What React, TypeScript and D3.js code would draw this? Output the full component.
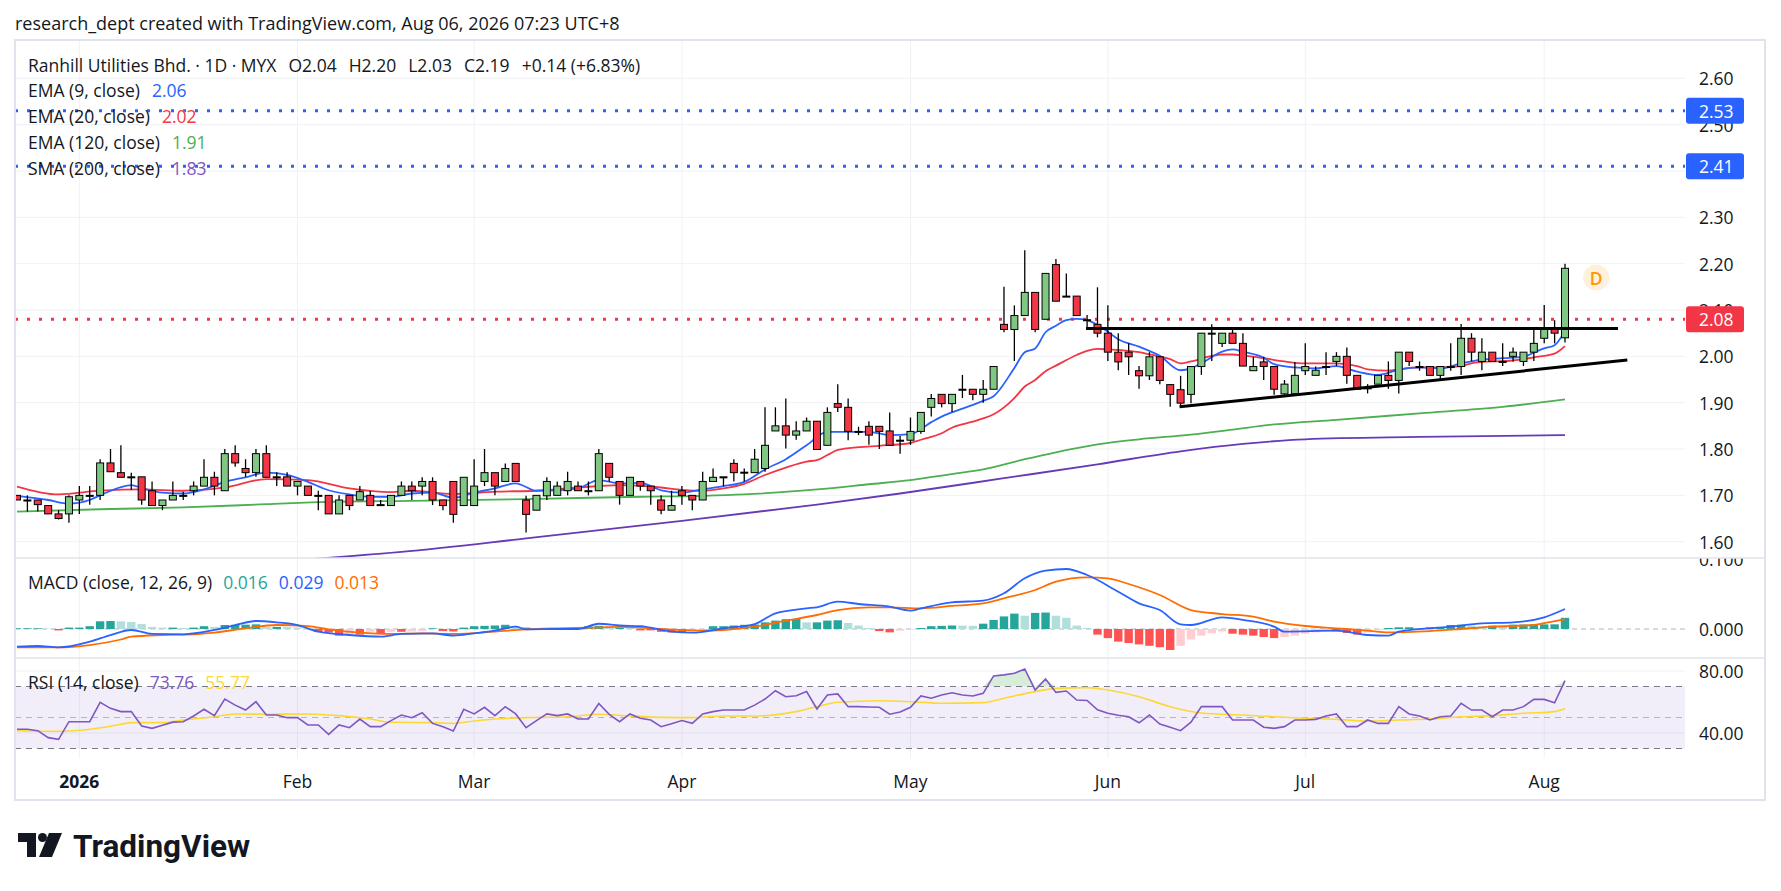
import React from 'react';
import * as d3 from 'd3';

// ---- data (one entry per trading day, index 0 = Dec 23 2025) ----
const opens = [
  1.700, 1.690, 1.690, 1.678, 1.660, 1.660, 1.690, 1.700, 1.700, 1.770,
  1.749, 1.740, 1.740, 1.710, 1.678, 1.690, 1.700, 1.710, 1.720, 1.739,
  1.710, 1.790, 1.758, 1.749, 1.790, 1.740, 1.740, 1.720, 1.720, 1.700,
  1.700, 1.660, 1.700, 1.690, 1.700, 1.680, 1.678, 1.700, 1.720, 1.720,
  1.730, 1.690, 1.730, 1.678, 1.678, 1.730, 1.749, 1.730, 1.769, 1.690,
  1.668, 1.699, 1.700, 1.710, 1.720, 1.710, 1.710, 1.769, 1.730, 1.700,
  1.730, 1.720, 1.690, 1.668, 1.710, 1.700, 1.690, 1.730, 1.739, 1.769,
  1.750, 1.749, 1.758, 1.839, 1.850, 1.830, 1.839, 1.860, 1.808, 1.898,
  1.890, 1.838, 1.849, 1.849, 1.839, 1.819, 1.819, 1.838, 1.890, 1.918,
  1.898, 1.929, 1.929, 1.918, 1.929, 2.069, 2.058, 2.088, 2.138, 2.080,
  2.198, 2.130, 2.130, 2.079, 2.069, 2.050, 2.009, 2.009, 1.969, 1.958,
  1.999, 1.939, 1.928, 1.918, 1.978, 2.050, 2.028, 2.050, 2.028, 1.969,
  1.988, 1.978, 1.919, 1.919, 1.969, 1.959, 1.978, 1.989, 2.000, 1.959,
  1.932, 1.940, 1.959, 1.948, 2.009, 1.978, 1.978, 1.959, 1.978, 1.978,
  2.039, 1.989, 2.009, 1.989, 2.000, 1.989, 2.009, 2.039, 2.058, 2.040,
];
const highs = [
  1.700, 1.700, 1.690, 1.678, 1.668, 1.700, 1.720, 1.720, 1.778, 1.800,
  1.808, 1.749, 1.740, 1.730, 1.690, 1.730, 1.708, 1.730, 1.778, 1.751,
  1.800, 1.808, 1.778, 1.800, 1.808, 1.750, 1.750, 1.730, 1.720, 1.710,
  1.700, 1.700, 1.700, 1.720, 1.710, 1.690, 1.700, 1.730, 1.730, 1.739,
  1.739, 1.690, 1.730, 1.739, 1.778, 1.800, 1.749, 1.769, 1.769, 1.699,
  1.700, 1.739, 1.730, 1.751, 1.730, 1.730, 1.800, 1.769, 1.730, 1.739,
  1.730, 1.720, 1.700, 1.710, 1.720, 1.700, 1.751, 1.758, 1.740, 1.778,
  1.758, 1.800, 1.890, 1.890, 1.909, 1.860, 1.868, 1.860, 1.890, 1.940,
  1.909, 1.848, 1.860, 1.849, 1.879, 1.828, 1.868, 1.879, 1.919, 1.918,
  1.918, 1.960, 1.929, 1.949, 1.979, 2.150, 2.110, 2.229, 2.138, 2.179,
  2.210, 2.179, 2.130, 2.089, 2.149, 2.110, 2.050, 2.028, 1.979, 2.009,
  1.999, 1.939, 1.958, 1.978, 2.050, 2.069, 2.050, 2.058, 2.050, 1.999,
  1.999, 1.978, 1.949, 1.988, 2.028, 1.978, 2.009, 2.009, 2.019, 1.959,
  1.940, 1.959, 1.989, 2.009, 2.009, 1.989, 1.978, 1.978, 2.028, 2.070,
  2.050, 2.039, 2.009, 2.028, 2.019, 2.009, 2.057, 2.111, 2.078, 2.200,
];
const lows = [
  1.690, 1.665, 1.665, 1.660, 1.648, 1.641, 1.660, 1.680, 1.690, 1.751,
  1.739, 1.712, 1.680, 1.678, 1.668, 1.690, 1.690, 1.700, 1.720, 1.700,
  1.710, 1.762, 1.740, 1.740, 1.739, 1.720, 1.720, 1.700, 1.700, 1.668,
  1.660, 1.660, 1.668, 1.690, 1.678, 1.678, 1.678, 1.700, 1.690, 1.700,
  1.679, 1.668, 1.641, 1.678, 1.678, 1.720, 1.700, 1.730, 1.730, 1.620,
  1.668, 1.690, 1.700, 1.700, 1.710, 1.700, 1.710, 1.730, 1.680, 1.700,
  1.710, 1.680, 1.659, 1.668, 1.680, 1.668, 1.690, 1.730, 1.720, 1.730,
  1.730, 1.749, 1.751, 1.839, 1.801, 1.820, 1.839, 1.799, 1.808, 1.880,
  1.819, 1.830, 1.809, 1.800, 1.808, 1.790, 1.809, 1.833, 1.870, 1.890,
  1.880, 1.910, 1.905, 1.900, 1.929, 2.052, 1.990, 2.088, 2.052, 2.080,
  2.119, 2.130, 2.088, 2.058, 2.041, 1.990, 1.970, 1.960, 1.930, 1.949,
  1.940, 1.891, 1.891, 1.899, 1.960, 1.990, 2.020, 2.028, 1.979, 1.969,
  1.949, 1.917, 1.912, 1.919, 1.960, 1.959, 1.960, 1.979, 1.941, 1.929,
  1.920, 1.940, 1.930, 1.920, 1.979, 1.969, 1.959, 1.950, 1.969, 1.960,
  1.989, 1.970, 1.989, 1.979, 1.989, 1.979, 1.990, 2.028, 2.028, 2.030,
];
const closes = [
  1.690, 1.690, 1.680, 1.660, 1.650, 1.697, 1.700, 1.700, 1.770, 1.751,
  1.739, 1.740, 1.690, 1.678, 1.690, 1.700, 1.700, 1.720, 1.739, 1.720,
  1.790, 1.770, 1.749, 1.790, 1.739, 1.740, 1.720, 1.730, 1.700, 1.700,
  1.660, 1.690, 1.678, 1.708, 1.678, 1.680, 1.700, 1.720, 1.710, 1.730,
  1.690, 1.678, 1.659, 1.739, 1.720, 1.749, 1.720, 1.758, 1.730, 1.659,
  1.700, 1.730, 1.720, 1.730, 1.710, 1.710, 1.790, 1.739, 1.700, 1.739,
  1.720, 1.710, 1.668, 1.678, 1.700, 1.690, 1.730, 1.739, 1.740, 1.749,
  1.750, 1.778, 1.808, 1.850, 1.830, 1.839, 1.860, 1.799, 1.879, 1.890,
  1.838, 1.838, 1.830, 1.838, 1.808, 1.819, 1.838, 1.879, 1.909, 1.898,
  1.918, 1.929, 1.918, 1.929, 1.978, 2.058, 2.088, 2.138, 2.058, 2.179,
  2.119, 2.130, 2.088, 2.079, 2.050, 2.009, 1.988, 1.999, 1.958, 1.999,
  1.948, 1.918, 1.899, 1.978, 2.050, 2.050, 2.050, 2.028, 1.979, 1.978,
  1.978, 1.929, 1.940, 1.959, 1.978, 1.970, 1.978, 2.000, 1.959, 1.929,
  1.932, 1.959, 1.948, 2.009, 1.989, 1.978, 1.959, 1.978, 1.978, 2.039,
  2.009, 2.009, 1.989, 1.989, 2.009, 2.009, 2.028, 2.058, 2.050, 2.190,
];

// moving averages, read as [bar index, value]
const ema9 = [
  [0, 1.699], [3, 1.690], [5, 1.682], [7, 1.690], [8, 1.700], [10, 1.718], [11, 1.722], [12, 1.716],
  [14, 1.706], [16, 1.704], [18, 1.713], [20, 1.729], [22, 1.739], [24, 1.749], [26, 1.744], [28, 1.729],
  [30, 1.711], [32, 1.702], [34, 1.697], [36, 1.697], [38, 1.704], [40, 1.706], [42, 1.695], [44, 1.706],
  [46, 1.715], [48, 1.726], [50, 1.710], [52, 1.711], [54, 1.715], [56, 1.733], [58, 1.726], [60, 1.727],
  [62, 1.711], [64, 1.706], [66, 1.713], [68, 1.720], [70, 1.729], [72, 1.756], [74, 1.778], [76, 1.808],
  [78, 1.837], [82, 1.837], [84, 1.830], [86, 1.832], [88, 1.858], [89, 1.870], [91, 1.887], [93, 1.904],
  [94, 1.914], [96, 1.975], [97, 2.009], [98, 2.017], [99, 2.052], [100, 2.066], [101, 2.078], [102, 2.081],
  [103, 2.078], [104, 2.068], [105, 2.053], [106, 2.037], [108, 2.021], [110, 2.001], [112, 1.970], [113, 1.974],
  [114, 1.985], [116, 2.010], [117, 2.015], [118, 2.010], [120, 1.997], [121, 1.983], [123, 1.976], [125, 1.974],
  [127, 1.979], [129, 1.967], [131, 1.960], [133, 1.971], [135, 1.976], [137, 1.974], [139, 1.985], [141, 1.993],
  [143, 1.996], [145, 1.999], [146, 2.008], [147, 2.017], [148, 2.024], [149, 2.055],
];
const ema20 = [
  [0, 1.719], [4, 1.702], [8, 1.710], [12, 1.713], [16, 1.710], [20, 1.717], [24, 1.735], [28, 1.733],
  [32, 1.715], [36, 1.707], [38, 1.710], [42, 1.703], [46, 1.708], [50, 1.710], [54, 1.717], [58, 1.722],
  [62, 1.717], [64, 1.712], [66, 1.710], [68, 1.715], [70, 1.725], [72, 1.744], [74, 1.760], [76, 1.773],
  [77, 1.776], [78, 1.787], [79, 1.798], [81, 1.804], [83, 1.807], [86, 1.813], [87, 1.820], [89, 1.834],
  [90, 1.846], [92, 1.859], [93, 1.866], [94, 1.875], [96, 1.910], [97, 1.935], [98, 1.949], [99, 1.968],
  [100, 1.980], [102, 2.003], [103, 2.012], [104, 2.016], [105, 2.015], [107, 2.012], [108, 2.009], [109, 2.004],
  [111, 1.994], [112, 1.985], [113, 1.989], [115, 2.001], [116, 2.004], [117, 2.004], [118, 2.002], [120, 1.996],
  [122, 1.989], [124, 1.985], [127, 1.985], [129, 1.979], [130, 1.972], [132, 1.969], [133, 1.972], [135, 1.976],
  [137, 1.976], [139, 1.979], [140, 1.985], [142, 1.989], [144, 1.991], [146, 1.998], [148, 2.006], [149, 2.022],
];
const ema120 = [
  [0, 1.665], [8, 1.670], [16, 1.674], [24, 1.681], [30, 1.686], [38, 1.688], [49, 1.692], [60, 1.697],
  [66, 1.699], [70, 1.702], [77, 1.713], [82, 1.724], [86, 1.733], [90, 1.746], [93, 1.756], [97, 1.778],
  [100, 1.793], [104, 1.810], [108, 1.821], [113, 1.831], [117, 1.842], [121, 1.853], [127, 1.863], [135, 1.877],
  [143, 1.891], [149, 1.907],
];
const sma200 = [
  [28, 1.562], [37, 1.578], [49, 1.607], [64, 1.645], [77, 1.680], [85, 1.704], [95, 1.737], [104, 1.767],
  [112, 1.795], [118, 1.811], [124, 1.821], [135, 1.826], [149, 1.830],
];

// drawn lines and levels
const levelsBlue = [2.53, 2.41];
const levelRed = 2.08;
const flatLine = [[102.9, 2.06], [154.1, 2.06]];
const risingLine = [[111.9, 1.891], [155, 1.992]];
const dMarker = { i: 152, p: 2.17 };

// MACD (12, 26, 9)
const macdHist = [
  0.001, 0.001, 0.001, 0.0005, -0.002, 0.002, 0.002, 0.004, 0.011, 0.0114,
  0.011, 0.010, 0.007, 0.003, 0.002, 0.002, 0.0015, 0.002, 0.004, 0.003,
  0.0057, 0.006, 0.0062, 0.0066, 0.003, 0.003, 0.0028, 0.002, 0.001, -0.004,
  -0.005, -0.0095, -0.0076, -0.008, -0.004, -0.006, -0.004, -0.004, -0.0035, -0.003,
  0.001, -0.003, -0.0035, 0.002, 0.004, 0.0045, 0.005, 0.006, 0.002, 0.002,
  0.001, 0.001, 0.0012, 0.001, 0.0008, 0.004, 0.0045, 0.002, 0.002, 0.0015,
  -0.002, -0.002, -0.004, -0.005, -0.0057, -0.002, -0.0015, 0.004, 0.004, 0.005,
  0.006, 0.0065, 0.0095, 0.012, 0.014, 0.0145, 0.0095, 0.0095, 0.012, 0.0125,
  0.0086, 0.005, 0.0014, -0.003, -0.0048, -0.0024, -0.001, 0.0014, 0.004, 0.0045,
  0.005, 0.0048, 0.0045, 0.0076, 0.013, 0.018, 0.022, 0.019, 0.023, 0.0235,
  0.019, 0.016, 0.005, 0.0014, -0.008, -0.013, -0.018, -0.020, -0.022, -0.024,
  -0.026, -0.030, -0.024, -0.015, -0.0095, -0.006, -0.0035, -0.0067, -0.008, -0.0095,
  -0.0114, -0.013, -0.0114, -0.0095, -0.0067, -0.0048, -0.0024, -0.0033, -0.0057, -0.008,
  -0.0048, -0.0019, 0.0014, 0.0024, 0.0025, 0.0014, 0.0024, 0.0026, 0.0057, 0.0062,
  0.0048, 0.0038, 0.0048, 0.0038, 0.0062, 0.0064, 0.0065, 0.0066, 0.0067, 0.016,
];
const macdLine = [
  [0, -0.0253], [2, -0.0243], [4, -0.0262], [7, -0.0181], [9, -0.0086], [11, -0.0014], [13, -0.0071], [16, -0.0076],
  [19, -0.0014], [21, 0.0057], [23, 0.0114], [25, 0.0095], [27, 0.0057], [29, -0.0038], [32, -0.0086], [35, -0.011],
  [37, -0.0071], [40, -0.0062], [42, -0.0095], [44, -0.0062], [46, -0.0024], [48, 0.0033], [49, -0.0005], [52, 0],
  [54, 0], [56, 0.0075], [58, 0.005], [60, 0.004], [63, -0.0038], [65, -0.0052], [68, 0.001], [71, 0.0071],
  [73, 0.0224], [76, 0.0295], [77, 0.031], [79, 0.039], [81, 0.0357], [84, 0.0319], [86, 0.0262], [87, 0.0295],
  [90, 0.0381], [93, 0.0405], [95, 0.051], [97, 0.0724], [99, 0.0833], [101, 0.0857], [103, 0.0771], [106, 0.0533],
  [108, 0.0367], [110, 0.0271], [112, 0.0067], [113, 0.0057], [116, 0.0167], [118, 0.0129], [121, 0.0033], [122, -0.0038],
  [127, -0.0024], [130, -0.0086], [132, -0.0095], [133, -0.0038], [138, 0.0033], [141, 0.0081], [144, 0.0095], [147, 0.0167],
  [149, 0.0286],
];
const signalLine = [
  [0, -0.0262], [4, -0.0262], [7, -0.0229], [10, -0.015], [11, -0.011], [14, -0.0086], [17, -0.0076], [19, -0.0052],
  [22, 0.001], [25, 0.0057], [28, 0.004], [30, -0.0005], [33, -0.0052], [36, -0.0071], [39, -0.0062], [42, -0.0071],
  [46, -0.0038], [49, -0.0005], [52, 0.001], [55, 0.0019], [58, 0.003], [61, 0.001], [64, -0.0014], [66, -0.0024],
  [68, -0.0014], [71, 0.0033], [74, 0.0119], [77, 0.02], [79, 0.0271], [82, 0.031], [84, 0.031], [87, 0.0295],
  [90, 0.0329], [93, 0.0367], [95, 0.0438], [98, 0.0557], [100, 0.0676], [103, 0.0738], [105, 0.0724], [107, 0.0643],
  [110, 0.0486], [113, 0.0271], [116, 0.0214], [119, 0.0176], [121, 0.0105], [124, 0.0043], [127, 0.001], [130, -0.0024],
  [132, -0.0048], [136, -0.0029], [139, 0], [142, 0.0033], [146, 0.0057], [148, 0.0114], [149, 0.0138],
];

// RSI (14)
const rsi = [
  42.4, 42.4, 41.5, 37, 35.9, 47.3, 47.3, 47.3, 59.8, 55.9,
  53.8, 53.8, 44.5, 43, 45, 47, 47.3, 51, 55.3, 51.2,
  61.9, 58, 54.8, 60.2, 51.6, 51.6, 49.9, 49.9, 45.2, 45.2,
  39.1, 45.2, 43.4, 49, 44.1, 44.1, 48, 51.6, 49.9, 53.1,
  46.2, 44, 41.3, 55.3, 52.3, 56.6, 51.2, 57, 52.3, 43.4,
  48, 52.3, 51.2, 52.3, 49, 49, 59, 52, 47.3, 52.3,
  49.5, 48.4, 44.1, 46, 48, 46.2, 52.3, 53.8, 54.8, 54.8,
  54.8, 58, 61.9, 67.3, 63.4, 64, 66.7, 55.5, 64.5, 65.2,
  57, 57, 56.8, 56.6, 52.1, 53.5, 56.6, 63.9, 62.4, 64.5,
  66, 64.5, 63.9, 65.6, 76.8, 77.5, 78.5, 81.3, 67.7, 74.8,
  66.2, 67.1, 61.3, 61, 55, 52.7, 51.5, 50.5, 46.6, 51.6,
  45.8, 43.7, 41.5, 47, 57, 57, 57, 48.4, 48.4, 48.4,
  43.7, 43, 44.1, 48.4, 48.4, 48.8, 51, 52.3, 44.1, 44.1,
  48.4, 46.2, 46.2, 57, 52.3, 51, 48.4, 50.5, 51, 59.2,
  54.8, 54.8, 50.5, 54.8, 54.8, 57, 61.7, 61.7, 59.5, 73.76,
];
const rsiMa = [
  [0, 41.5], [4, 41.1], [7, 42.4], [10, 45.6], [11, 46.7], [14, 46.7], [16, 48.4], [19, 50.5],
  [21, 52.3], [24, 52.1], [28, 52.3], [31, 51.2], [34, 49], [36, 46.9], [40, 46.7], [42, 46.2],
  [44, 47.7], [46, 49], [49, 49.9], [53, 50.5], [56, 52.1], [59, 51], [62, 50.1], [65, 49.9],
  [68, 51], [71, 51], [75, 53.8], [77, 57], [79, 59.8], [83, 60.8], [86, 60.2], [89, 59.2],
  [93, 59.6], [95, 62.4], [98, 66.7], [100, 68.8], [103, 69.3], [105, 67.7], [108, 63.4], [111, 57],
  [114, 52.9], [118, 51.6], [121, 50.5], [124, 49.5], [127, 48.8], [130, 47.7], [133, 48.4], [136, 49],
  [139, 50.5], [142, 51.2], [145, 52.7], [148, 53.8], [149, 55.77],
];

// axes
const priceTicks = [1.6, 1.7, 1.8, 1.9, 2.0, 2.1, 2.2, 2.3, 2.4, 2.5, 2.6];
const macdTicks = [0, 0.1];
const rsiTicks = [40, 80];
const rsiBands = [70, 50, 30];
const monthLabels = ['2026', 'Feb', 'Mar', 'Apr', 'May', 'Jun', 'Jul', 'Aug'];
const monthIdx = [6, 27, 44, 64, 86, 105, 124, 147];

const headerText = 'research_dept created with TradingView.com, Aug 06, 2026 07:23 UTC+8';
const titleParts = ['Ranhill Utilities Bhd. \u00b7 1D \u00b7 MYX', 'O2.04', 'H2.20', 'L2.03', 'C2.19', '+0.14 (+6.83%)'];
const maLegend = [
  { name: 'EMA (9, close)', value: '2.06', color: '#2962ff' },
  { name: 'EMA (20, close)', value: '2.02', color: '#f23645' },
  { name: 'EMA (120, close)', value: '1.91', color: '#4caf50' },
  { name: 'SMA (200, close)', value: '1.83', color: '#7e57c2' },
];

const W = 1781;
const H = 891;
const FONT = "'Open Sans', 'Noto Sans', sans-serif";
const FS = 17.5;
const TXT = '#131722';
const GRID = '#eff1f5';
const BORDER = '#e0e3eb';
const UP = '#81c784';
const DOWN = '#f23645';

const L = 15;          // frame left
const R = 1765;        // frame right
const PR = 1685;       // plot right edge
const AX = 1699;       // axis label x
const TOP = 40;
const SEP1 = 558;
const SEP2 = 658;
const RSI_BOTTOM = 758;
const BOTTOM = 800;

const App = () => {
  const x = d3.scaleLinear().domain([0, closes.length - 1]).range([17, 1565]);
  const y = d3.scaleLinear().domain([1.6, 2.6]).range([541.7, 78.3]);
  const yM = d3.scaleLinear().domain([0, 0.1]).range([629, 559]);
  const yR = d3.scaleLinear().domain([40, 80]).range([733, 671]);

  const knots = (ys) =>
    d3.line().x((d) => x(d[0])).y((d) => ys(d[1])).curve(d3.curveMonotoneX);
  const straight = (ys) => d3.line().x((d) => x(d[0])).y((d) => ys(d[1]));
  const rsiPath = d3.line().x((d, i) => x(i)).y((d) => yR(d))(rsi);
  const obArea = d3
    .area()
    .x((d, i) => x(i))
    .y0(yR(70))
    .y1((d) => yR(Math.max(d, 70)))(rsi);

  const bodyW = 7;
  const barW = 8.4;

  const histColor = (v, i) => {
    const prev = i > 0 ? macdHist[i - 1] : 0;
    if (v >= 0) return v >= prev ? '#26a69a' : '#b2dfdb';
    return v <= prev ? '#ff5252' : '#ffcdd2';
  };

  const tags = [...levelsBlue, levelRed];
  // tick labels completely covered by a price tag are not drawn
  const visibleTicks = priceTicks.filter((t) => !tags.some((p) => Math.abs(y(t) - y(p)) < 6));

  const priceTag = (p, color, key) => (
    <g key={key}>
      <rect x={PR + 1} y={y(p) - 13} width={58} height={26} rx={3} fill={color} />
      <text x={AX} y={y(p)} dominantBaseline="central" fill="#fff" fontSize={FS}>
        {p.toFixed(2)}
      </text>
    </g>
  );

  return (
    <svg
      width={W}
      height={H}
      style={{ position: 'absolute', left: 0, top: 0, background: '#fff' }}
      fontFamily={FONT}
    >
      <defs>
        <clipPath id="clipPrice">
          <rect x={L} y={TOP} width={PR - L} height={SEP1 - TOP} />
        </clipPath>
        <clipPath id="clipMacd">
          <rect x={L} y={SEP1} width={PR - L} height={SEP2 - SEP1} />
        </clipPath>
        <clipPath id="clipMacdAxis">
          <rect x={PR} y={SEP1} width={R - PR} height={SEP2 - SEP1} />
        </clipPath>
        <clipPath id="clipRsi">
          <rect x={L} y={SEP2} width={PR - L} height={RSI_BOTTOM - SEP2} />
        </clipPath>
        <clipPath id="clipOb">
          <rect x={L} y={SEP2} width={PR - L} height={yR(70) - SEP2} />
        </clipPath>
      </defs>
      <rect width={W} height={H} fill="#fff" />

      <text x={15} y={23} dominantBaseline="central" fontSize={18} fill={TXT}>
        {headerText}
      </text>

      {/* grid */}
      {monthIdx.map((m, k) => (
        <line key={'vg' + k} x1={x(m)} x2={x(m)} y1={TOP} y2={RSI_BOTTOM} stroke={GRID} strokeWidth={1} />
      ))}
      {priceTicks.map((t) => (
        <line key={'pg' + t} x1={L} x2={PR} y1={y(t)} y2={y(t)} stroke={GRID} strokeWidth={1} />
      ))}
      {rsiTicks.map((t) => (
        <line key={'rg' + t} x1={L} x2={PR} y1={yR(t)} y2={yR(t)} stroke={GRID} strokeWidth={1} />
      ))}

      {/* price pane */}
      <g clipPath="url(#clipPrice)">
        {levelsBlue.map((p) => (
          <line key={'lb' + p} x1={L} x2={PR} y1={y(p)} y2={y(p)} stroke="#2962ff" strokeWidth={3} strokeDasharray="3 9" />
        ))}
        <line x1={L} x2={PR} y1={y(levelRed)} y2={y(levelRed)} stroke={DOWN} strokeWidth={3} strokeDasharray="3 9" />

        <path d={knots(y)(sma200)} fill="none" stroke="#673ab7" strokeWidth={1.8} />
        <path d={knots(y)(ema120)} fill="none" stroke="#4caf50" strokeWidth={1.8} />
        <path d={knots(y)(ema20)} fill="none" stroke={DOWN} strokeWidth={1.8} />
        <path d={knots(y)(ema9)} fill="none" stroke="#2962ff" strokeWidth={1.8} />

        {closes.map((c, i) => {
          const o = opens[i];
          const top = y(Math.max(o, c));
          const h = Math.max(1, y(Math.min(o, c)) - top);
          return (
            <g key={'c' + i}>
              <line x1={x(i)} x2={x(i)} y1={y(highs[i])} y2={y(lows[i])} stroke="#000" strokeWidth={1.3} />
              <rect
                x={x(i) - bodyW / 2}
                y={top}
                width={bodyW}
                height={h}
                fill={c >= o ? UP : DOWN}
                stroke="#000"
                strokeWidth={1}
              />
            </g>
          );
        })}

        <path d={straight(y)(flatLine)} stroke="#000" strokeWidth={3} fill="none" />
        <path d={straight(y)(risingLine)} stroke="#000" strokeWidth={3} fill="none" />

        <circle cx={x(dMarker.i)} cy={y(dMarker.p)} r={13} fill="#fff0dc" />
        <text
          x={x(dMarker.i)}
          y={y(dMarker.p)}
          textAnchor="middle"
          dominantBaseline="central"
          fontSize={FS}
          fontWeight={600}
          fill="#ff9800"
        >
          D
        </text>
      </g>

      {/* price legend */}
      <text x={28} y={65} dominantBaseline="central" fontSize={FS} fill={TXT}>
        {titleParts.map((t, k) => (
          <tspan key={'tp' + k} dx={k === 0 ? 0 : 12}>
            {t}
          </tspan>
        ))}
      </text>
      {maLegend.map((m, k) => (
        <text key={'ml' + k} x={28} y={90 + k * 26} dominantBaseline="central" fontSize={FS} fill={TXT}>
          {m.name}
          <tspan dx={12} fill={m.color}>
            {m.value}
          </tspan>
        </text>
      ))}

      {/* price axis */}
      {visibleTicks.map((t) => (
        <text key={'pl' + t} x={AX} y={y(t)} dominantBaseline="central" fontSize={FS} fill={TXT}>
          {t.toFixed(2)}
        </text>
      ))}
      {levelsBlue.map((p, k) => priceTag(p, '#2962ff', 'tb' + k))}
      {priceTag(levelRed, DOWN, 'tr')}

      {/* MACD pane */}
      <line x1={L} x2={PR} y1={yM(0)} y2={yM(0)} stroke="#b2b5be" strokeWidth={1} strokeDasharray="5 4" />
      <g clipPath="url(#clipMacd)">
        {macdHist.map((v, i) => (
          <rect
            key={'h' + i}
            x={x(i) - barW / 2}
            y={Math.min(yM(v), yM(0))}
            width={barW}
            height={Math.abs(yM(v) - yM(0))}
            fill={histColor(v, i)}
          />
        ))}
        <path d={knots(yM)(signalLine)} fill="none" stroke="#ff6d00" strokeWidth={1.8} />
        <path d={knots(yM)(macdLine)} fill="none" stroke="#2962ff" strokeWidth={1.8} />
      </g>
      <text x={28} y={582} dominantBaseline="central" fontSize={FS} fill={TXT}>
        MACD (close, 12, 26, 9)
        <tspan dx={11} fill="#26a69a">0.016</tspan>
        <tspan dx={11} fill="#2962ff">0.029</tspan>
        <tspan dx={11} fill="#ff6d00">0.013</tspan>
      </text>
      <g clipPath="url(#clipMacdAxis)">
        {macdTicks.map((t) => (
          <text key={'ml' + t} x={AX} y={yM(t)} dominantBaseline="central" fontSize={FS} fill={TXT}>
            {t.toFixed(3)}
          </text>
        ))}
      </g>

      {/* RSI pane */}
      <rect x={L} y={yR(70)} width={PR - L} height={yR(30) - yR(70)} fill="rgba(126,87,194,0.1)" />
      {rsiBands.map((b) => (
        <line
          key={'rb' + b}
          x1={L}
          x2={PR}
          y1={yR(b)}
          y2={yR(b)}
          stroke="#787b86"
          strokeOpacity={b === 50 ? 0.5 : 1}
          strokeWidth={1}
          strokeDasharray="6 5"
        />
      ))}
      <g clipPath="url(#clipRsi)">
        <path d={obArea} fill="rgba(76,175,80,0.22)" clipPath="url(#clipOb)" />
        <path d={knots(yR)(rsiMa)} fill="none" stroke="#fdd835" strokeWidth={1.6} />
        <path d={rsiPath} fill="none" stroke="#7e57c2" strokeWidth={1.6} />
      </g>
      <text x={28} y={682} dominantBaseline="central" fontSize={FS} fill={TXT}>
        RSI (14, close)
        <tspan dx={11} fill="#7e57c2">73.76</tspan>
        <tspan dx={11} fill="#fdd835">55.77</tspan>
      </text>
      {rsiTicks.map((t) => (
        <text key={'rl' + t} x={AX} y={yR(t)} dominantBaseline="central" fontSize={FS} fill={TXT}>
          {t.toFixed(2)}
        </text>
      ))}

      {/* time axis */}
      {monthLabels.map((m, k) => (
        <text
          key={'tl' + k}
          x={x(monthIdx[k])}
          y={781}
          textAnchor="middle"
          dominantBaseline="central"
          fontSize={FS}
          fontWeight={k === 0 ? 700 : 400}
          fill={TXT}
        >
          {m}
        </text>
      ))}

      {/* pane separators and frame */}
      <line x1={L} x2={R} y1={SEP1} y2={SEP1} stroke={BORDER} strokeWidth={1.5} />
      <line x1={L} x2={R} y1={SEP2} y2={SEP2} stroke={BORDER} strokeWidth={1.5} />
      <rect x={L} y={TOP} width={R - L} height={BOTTOM - TOP} fill="none" stroke={BORDER} strokeWidth={2} />

      {/* logo */}
      <path d="M18 833 H36 V857 H27 V842 H18 Z" fill="#131722" />
      <circle cx={42.5} cy={837.5} r={4.5} fill="#131722" />
      <path d="M49 833 H62 L52 857 H39 Z" fill="#131722" />
      <text x={73} y={846} dominantBaseline="central" fontSize={31.5} fontWeight={700} fill="#131722" fontFamily="Roboto, sans-serif">
        TradingView
      </text>
    </svg>
  );
};

export default App;
